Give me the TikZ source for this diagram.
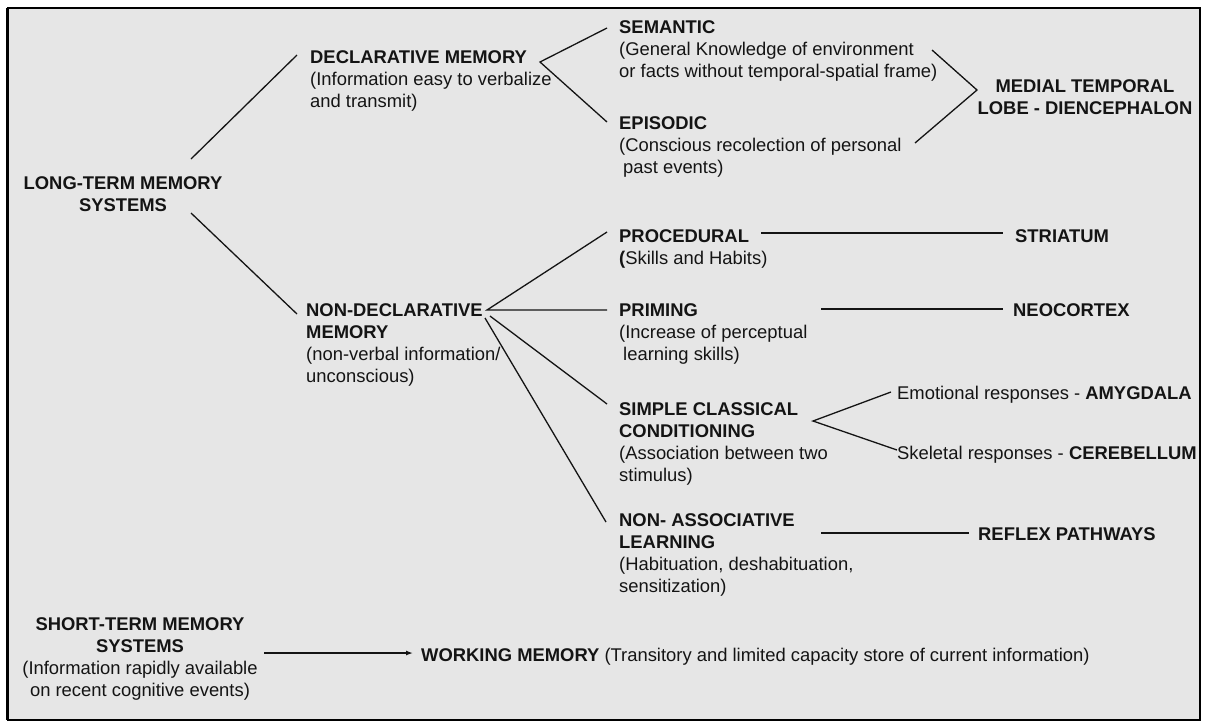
\documentclass[tikz,border=0pt]{standalone}
\usepackage{fontspec}
\setmainfont{Liberation Sans}
\usetikzlibrary{arrows.meta}
\definecolor{panel}{RGB}{230,230,230}
\definecolor{ink}{RGB}{20,20,20}
% text blocks whose baseline is the first line
\newcommand{\lblock}[1]{\begin{tabular}[t]{@{}l@{}}#1\end{tabular}}
\newcommand{\cblock}[1]{\begin{tabular}[t]{@{}c@{}}#1\end{tabular}}

\begin{document}
\begin{tikzpicture}[x=1pt,y=-1pt,
  txt/.style={inner sep=0pt,anchor=base west,text=ink,font=\fontsize{18.4}{22}\selectfont},
  ctxt/.style={txt,anchor=base},
  link/.style={draw=ink,line width=1.3pt}]
  \useasboundingbox (0,0) rectangle (1208,724);
  \draw[line width=2.5pt,fill=panel] (8,8) rectangle (1200,720);
  \draw[line width=1.5pt] (7,8) -- (7,720);

  % long-term branch
  \node[ctxt] (ltm) at (123,189) {\cblock{\textbf{LONG-TERM MEMORY}\\\textbf{SYSTEMS}}};
  \node[txt] (decl) at (310,63) {\lblock{\textbf{DECLARATIVE MEMORY}\\(Information easy to verbalize\\and transmit)}};
  \node[txt] (nondecl) at (306,316) {\lblock{\textbf{NON-DECLARATIVE}\\\textbf{MEMORY}\\(non-verbal information/\\unconscious)}};

  \node[txt] (sem) at (619,33) {\lblock{\textbf{SEMANTIC}\\(General Knowledge of environment\\or facts without temporal-spatial frame)}};
  \node[txt] (epi) at (619,129) {\lblock{\textbf{EPISODIC}\\(Conscious recolection of personal\\\hspace{4pt}past events)}};
  \node[ctxt] (mtl) at (1085,92) {\cblock{\textbf{MEDIAL TEMPORAL}\\\textbf{LOBE - DIENCEPHALON}}};

  \node[txt] (proc) at (619,242) {\lblock{\textbf{PROCEDURAL}\\\textbf{(}Skills and Habits)}};
  \node[txt] (prim) at (619,316) {\lblock{\textbf{PRIMING}\\(Increase of perceptual\\\hspace{4pt}learning skills)}};
  \node[txt] (scc) at (619,415) {\lblock{\textbf{SIMPLE CLASSICAL}\\\textbf{CONDITIONING}\\(Association between two\\stimulus)}};
  \node[txt] (nal) at (619,526) {\lblock{\textbf{NON- ASSOCIATIVE}\\\textbf{LEARNING}\\(Habituation, deshabituation,\\sensitization)}};

  \node[txt] (stri) at (1015,242) {\textbf{STRIATUM}};
  \node[txt] (neo) at (1013,316) {\textbf{NEOCORTEX}};
  \node[txt] (amy) at (897,399) {Emotional responses - \textbf{AMYGDALA}};
  \node[txt] (cer) at (897,459) {Skeletal responses - \textbf{CEREBELLUM}};
  \node[txt] (refl) at (978,540) {\textbf{REFLEX PATHWAYS}};

  % short-term branch
  \node[ctxt] (stm) at (140,630) {\cblock{\textbf{SHORT-TERM MEMORY}\\\textbf{SYSTEMS}\\(Information rapidly available\\on recent cognitive events)}};
  \node[txt] (wm) at (421,661) {\textbf{WORKING MEMORY} (Transitory and limited capacity store of current information)};

  % forks
  \coordinate (dfork) at ([shift={(230,-1)}]decl.base west);
  \coordinate (nfork) at ([shift={(181,-6)}]nondecl.base west);
  \coordinate (mfork) at ([shift={(-108,-2)}]mtl.base);
  \coordinate (cfork) at ([shift={(194,6)}]scc.base west);

  \draw[link] ([shift={(68,-30)}]ltm.base) -- ([shift={(-13,-8)}]decl.base west);
  \draw[link] ([shift={(68,24)}]ltm.base) -- ([shift={(-9,-2)}]nondecl.base west);

  \draw[link] ([shift={(-12,-5)}]sem.base west) -- (dfork) -- ([shift={(-12,-7)}]epi.base west);
  \draw[link] ([shift={(313,17)}]sem.base west) -- (mfork) -- ([shift={(296,14)}]epi.base west);

  \draw[link] ([shift={(-12,-10)}]proc.base west) -- (nfork) -- ([shift={(-12,-6)}]prim.base west);
  \draw[link] ([shift={(184,0)}]nondecl.base west) -- ([shift={(-12,-11)}]scc.base west);
  \draw[link] ([shift={(179,2)}]nondecl.base west) -- ([shift={(-13,-4)}]nal.base west);

  \draw[link] ([shift={(142,-9)}]proc.base west) -- ([shift={(-12,-9)}]stri.base west);
  \draw[link] ([shift={(202,-7)}]prim.base west) -- ([shift={(-10,-7)}]neo.base west);
  \draw[link] ([shift={(-6,-7)}]amy.base west) -- (cfork) -- ([shift={(0,-9)}]cer.base west);
  \draw[link] ([shift={(202,7)}]nal.base west) -- ([shift={(-9,-7)}]refl.base west);

  \draw[link,-{Latex[length=7pt,width=5pt]}] ([shift={(124,23)}]stm.base) -- ([shift={(-8,-8)}]wm.base west);
\end{tikzpicture}
\end{document}
